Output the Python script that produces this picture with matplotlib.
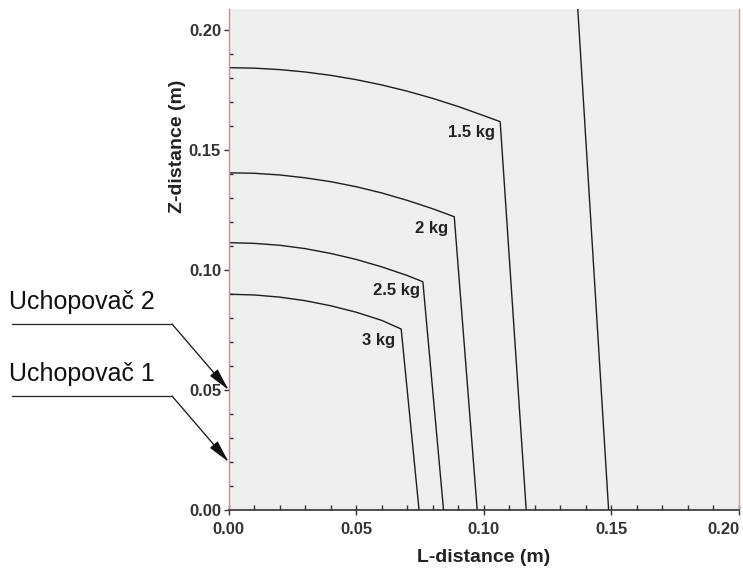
import matplotlib
matplotlib.use("Agg")
import matplotlib.pyplot as plt
from matplotlib.lines import Line2D
from matplotlib.ticker import MultipleLocator, FormatStrFormatter

plt.rcParams['font.family'] = ['Liberation Sans', 'DejaVu Sans']

# ---- data (L-distance m, Z-distance m) ----
l_15 = [0.0, 0.01, 0.02, 0.03, 0.04, 0.05, 0.06, 0.07, 0.08, 0.09, 0.10, 0.1064, 0.1166]
z_15 = [0.1843, 0.1841, 0.1835, 0.1825, 0.1811, 0.1793, 0.1771, 0.1745, 0.1715, 0.1681,
        0.1643, 0.1618, 0.0]

l_20 = [0.0, 0.01, 0.02, 0.03, 0.04, 0.05, 0.06, 0.07, 0.08, 0.0884, 0.0974]
z_20 = [0.1405, 0.1403, 0.1396, 0.1384, 0.1368, 0.1347, 0.1321, 0.1290, 0.1255, 0.1222, 0.0]

l_25 = [0.0, 0.01, 0.02, 0.03, 0.04, 0.05, 0.06, 0.07, 0.0761, 0.0842]
z_25 = [0.1114, 0.1111, 0.1103, 0.1089, 0.1069, 0.1044, 0.1013, 0.0977, 0.0951, 0.0]

l_30 = [0.0, 0.01, 0.02, 0.03, 0.04, 0.05, 0.06, 0.0676, 0.0746]
z_30 = [0.0899, 0.0896, 0.0887, 0.0872, 0.0851, 0.0824, 0.0790, 0.0754, 0.0]

l_outer = [0.1368, 0.1489]
z_outer = [0.2090, 0.0]

labels = ["1.5 kg", "2 kg", "2.5 kg", "3 kg"]
label_pos = [(0.1044, 0.1573), (0.0860, 0.1171), (0.0750, 0.0914), (0.0652, 0.0708)]

xticks = [0.00, 0.05, 0.10, 0.15, 0.20]
yticks = [0.00, 0.05, 0.10, 0.15, 0.20]

grippers = ["Uchopovač 2", "Uchopovač 1"]
gripper_z = [0.05, 0.02]

# ---- figure ----
W, H = 743, 569
fig = plt.figure(figsize=(W / 100, H / 100), dpi=100)
fig.patch.set_facecolor('white')
ax = fig.add_axes([228.7 / W, 1 - 510 / H, (739 - 228.7) / W, (510 - 9) / H])
ax.set_facecolor('#efefef')

lc = '#1e1e1e'
for xs, zs in [(l_15, z_15), (l_20, z_20), (l_25, z_25), (l_30, z_30), (l_outer, z_outer)]:
    ax.plot(xs, zs, color=lc, lw=1.0, clip_on=True)

for lab, (lx, lz) in zip(labels, label_pos):
    ax.text(lx, lz, lab, ha='right', va='center', fontsize=12, fontweight='bold', color='#222')

ax.set_xlim(0, 0.20)
ax.set_ylim(0, 0.20875)
ax.set_xticks(xticks)
ax.set_yticks(yticks)
ax.xaxis.set_major_formatter(FormatStrFormatter('%.2f'))
ax.yaxis.set_major_formatter(FormatStrFormatter('%.2f'))
ax.xaxis.set_minor_locator(MultipleLocator(0.01))
ax.yaxis.set_minor_locator(MultipleLocator(0.01))
ax.tick_params(axis='x', which='major', direction='inout', length=7, width=1, pad=5,
               labelsize=12, colors='#333')
ax.tick_params(axis='x', which='minor', direction='in', length=3.5, width=1, colors='#333')
ax.tick_params(axis='y', which='major', direction='out', length=3.5, width=1, pad=2,
               labelsize=12, colors='#333')
ax.tick_params(axis='y', which='minor', direction='in', length=3, width=1, colors='#333')
for t in ax.get_xticklabels() + ax.get_yticklabels():
    t.set_fontweight('bold')
ax.get_xticklabels()[-1].set_horizontalalignment('right')
ax.get_xticklabels()[-1].set_x(0.2)

ax.spines['top'].set_visible(False)
ax.spines['left'].set_color('#cf8c8c')
ax.spines['right'].set_color('#cf9a9a')
ax.spines['left'].set_linewidth(1.0)
ax.spines['right'].set_linewidth(1.0)
ax.spines['bottom'].set_color('#333')
ax.spines['bottom'].set_linewidth(1.2)

fig.text(484 / W, 1 - 557 / H, "L-distance (m)", ha='center', va='center',
         fontsize=14, fontweight='bold', color='#222')
fig.text(177 / W, 1 - 146 / H, "Z-distance (m)", ha='center', va='center', rotation=90,
         fontsize=14, fontweight='bold', color='#222')

# ---- gripper annotations ----
text_y = [302, 374]
line_y = [324, 396]
for name, gz, ty, ly in zip(grippers, gripper_z, text_y, line_y):
    fig.text(9 / W, 1 - ty / H, name, ha='left', va='center', fontsize=18, color='#111')
    fig.add_artist(Line2D([12 / W, 172 / W], [1 - ly / H, 1 - ly / H], color='#222', lw=0.9))
    ax.annotate('', xy=(0, gz), xycoords='data',
                xytext=(172 / W, 1 - ly / H), textcoords='figure fraction',
                arrowprops=dict(arrowstyle='-|>,head_length=1.0,head_width=0.22',
                                color='#111', lw=0.9, shrinkA=0, shrinkB=0,
                                mutation_scale=14),
                annotation_clip=False)

fig.savefig('out.png', dpi=100)
